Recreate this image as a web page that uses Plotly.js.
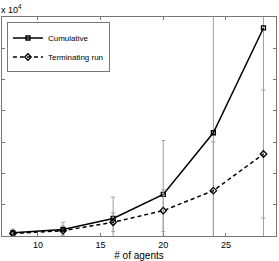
<!DOCTYPE html>
<html><head><meta charset="utf-8">
<script src="https://cdn.plot.ly/plotly-3.0.1.min.js"></script>
<style>html,body{margin:0;padding:0;background:#fff;}#chart{width:279px;height:261px;}</style>
</head><body><div id="chart"></div>
<script>
// values in units of 10^4
const agents = [8, 12, 16, 20, 24, 28];
const cumulative = [0.105, 0.21, 0.56, 1.33, 3.30, 6.65];
const cumulativeErr = [0.115, 0.23, 0.68, 1.72, 4.0, 7.5];
const terminating = [0.08, 0.17, 0.44, 0.81, 1.45, 2.62];
const terminatingErr = [0.08, 0.15, 0.3, 0.67, 1.56, 2.05];
const xTicks = [10, 15, 20, 25];
const yTicks = [0, 1, 2, 3, 4, 5, 6, 7];

const errStyle = {type: 'data', visible: true, color: '#a0a0a0', thickness: 1, width: 2};
const traces = [
  {x: agents, y: cumulative, name: 'Cumulative', type: 'scatter', mode: 'lines+markers',
   line: {color: '#000', width: 1.5}, marker: {symbol: 'square-open', size: 4, color: '#000', line: {width: 1.3}},
   error_y: Object.assign({array: cumulativeErr}, errStyle)},
  {x: agents, y: terminating, name: 'Terminating run', type: 'scatter', mode: 'lines+markers',
   line: {color: '#000', width: 1.5, dash: '4px,3px'}, marker: {symbol: 'diamond-open', size: 5, color: '#000', line: {width: 1.3}},
   error_y: Object.assign({array: terminatingErr}, errStyle)}
];
const layout = {
  width: 279, height: 261,
  margin: {l: 2, r: 3, t: 17, b: 25},
  paper_bgcolor: '#fff', plot_bgcolor: '#fff',
  font: {family: 'Liberation Sans, Arial, sans-serif', color: '#000'},
  showlegend: true,
  legend: {x: 0.018, y: 0.975, xanchor: 'left', yanchor: 'top', bgcolor: '#fff',
           bordercolor: '#777', borderwidth: 1, font: {size: 8}, itemwidth: 30, tracegroupgap: 0,
           entrywidth: 110, entrywidthmode: 'pixels'},
  xaxis: {range: [7.13, 29], tickvals: xTicks, ticktext: xTicks.map(String), ticks: 'inside', ticklen: 3,
          tickcolor: '#777', showline: true, linecolor: '#777', linewidth: 1, mirror: 'ticks',
          showgrid: false, zeroline: false, tickfont: {size: 9}, ticklabelstandoff: 0,
          title: {text: '# of agents', font: {size: 10}, standoff: 2}},
  yaxis: {range: [0, 7], tickvals: yTicks, ticks: 'inside', ticklen: 3, tickcolor: '#777',
          showline: true, linecolor: '#777', linewidth: 1, mirror: 'ticks', showgrid: false,
          zeroline: false, showticklabels: false},
  annotations: [{text: 'x 10<sup>4</sup>', xref: 'paper', yref: 'paper', x: 0, y: 1, xanchor: 'left',
                 yanchor: 'bottom', xshift: -3, showarrow: false, font: {size: 9}}]
};
Plotly.newPlot('chart', traces, layout, {staticPlot: true, displayModeBar: false});
</script></body></html>
